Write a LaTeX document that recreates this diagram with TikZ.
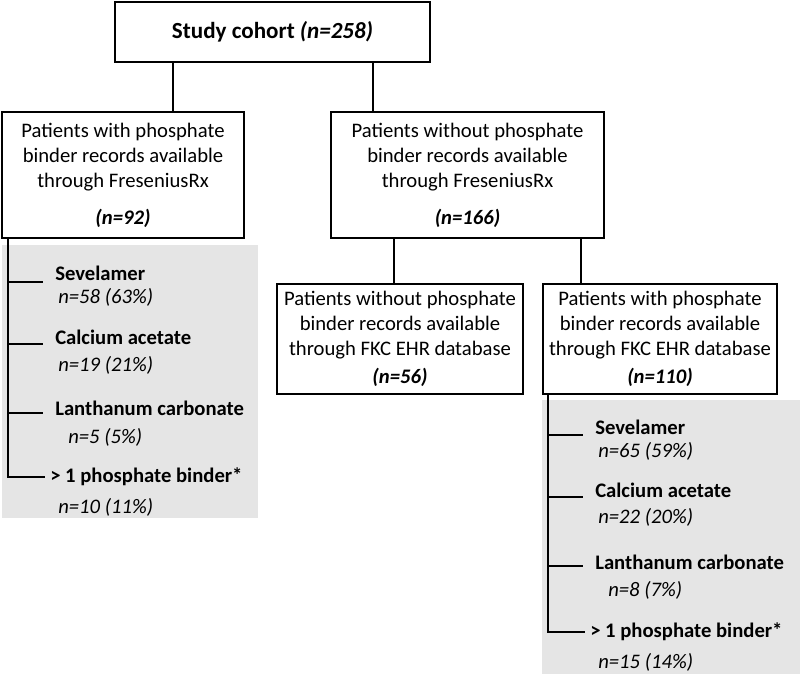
\documentclass[tikz,border=0pt]{standalone}
\usepackage{fontspec}
\setmainfont{Carlito}
\definecolor{shade}{RGB}{229,229,229}
\begin{document}
\begin{tikzpicture}[x=0.75pt,y=-0.75pt,
  every node/.style={font=\fontsize{15.5}{18.75}\selectfont, inner sep=0pt},
  box/.style={draw, line width=1.4pt, align=center, fill=white},
  conn/.style={line width=1.4pt},
  item/.style={anchor=west, font=\fontsize{15.5}{18.75}\selectfont\bfseries},
  cnt/.style={anchor=west, font=\fontsize{15.5}{18.75}\selectfont\itshape},
  panel/.style={fill=shade, draw=none}]
\useasboundingbox (0,0) rectangle (800,674);
% grey panels
\fill[panel] (2,245) rectangle (258,518);
\fill[panel] (542,400) rectangle (800,674);
% boxes
\node[box, minimum width=236.25pt, minimum height=45pt, font=\fontsize{17.3}{20}\selectfont] (top) at (272.5,32)
  {\bfseries Study cohort \textit{(n=258)}};
\node[box, minimum width=181.5pt, minimum height=94.5pt] (L) at (123,175)
  {Patients with phosphate\\binder records available\\through FreseniusRx\\[9pt]\textbf{\textit{(n=92)}}};
\node[box, minimum width=204.75pt, minimum height=94.5pt] (M) at (467.5,175)
  {Patients without phosphate\\binder records available\\through FreseniusRx\\[9pt]\textbf{\textit{(n=166)}}};
\node[box, minimum width=184.5pt, minimum height=82.5pt] (BL) at (400,339)
  {Patients without phosphate\\binder records available\\through FKC EHR database\\[2pt]\textbf{\textit{(n=56)}}};
\node[box, minimum width=175.5pt, minimum height=82.5pt] (BR) at (660,339)
  {Patients with phosphate\\binder records available\\through FKC EHR database\\[2pt]\textbf{\textit{(n=110)}}};
% connectors between boxes
\coordinate (xa) at (173,0);
\coordinate (xb) at (373,0);
\coordinate (xc) at (394,0);
\coordinate (xd) at (581,0);
\draw[conn] (top.south -| xa) -- (L.north -| xa);
\draw[conn] (top.south -| xb) -- (M.north -| xb);
\draw[conn] (M.south -| xc) -- (BL.north -| xc);
\draw[conn] (M.south -| xd) -- (BR.north -| xd);
% left list
\node[item] (ls) at (55,273) {Sevelamer};
\node[cnt] (lsn) at (58,297) {n=58 (63\%)};
\node[item] (lc) at (55,337) {Calcium acetate};
\node[cnt] (lcn) at (58,365) {n=19 (21\%)};
\node[item] (ll) at (55,408) {Lanthanum carbonate};
\node[cnt] (lln) at (68,437) {n=5 (5\%)};
\node[item] (lm) at (50,477) {> 1 phosphate binder*};
\node[cnt] (lmn) at (58,507) {n=10 (11\%)};
\coordinate (lx) at (8,0);
\coordinate (lt1) at (43,282);
\coordinate (lt2) at (43,344);
\coordinate (lt3) at (43,413);
\coordinate (lt4) at (45,477);
\draw[conn] (L.south -| lx) |- (lt4);
\draw[conn] (lx |- lt1) -- (lt1);
\draw[conn] (lx |- lt2) -- (lt2);
\draw[conn] (lx |- lt3) -- (lt3);
% right list
\node[item] (rs) at (595,427) {Sevelamer};
\node[cnt] (rsn) at (598,451) {n=65 (59\%)};
\node[item] (rc) at (595,490) {Calcium acetate};
\node[cnt] (rcn) at (598,517) {n=22 (20\%)};
\node[item] (rl) at (595,562) {Lanthanum carbonate};
\node[cnt] (rln) at (608,590) {n=8 (7\%)};
\node[item] (rm) at (590,632) {> 1 phosphate binder*};
\node[cnt] (rmn) at (598,662) {n=15 (14\%)};
\coordinate (rx) at (548,0);
\coordinate (rt1) at (583,435);
\coordinate (rt2) at (583,497);
\coordinate (rt3) at (583,566);
\coordinate (rt4) at (585,632);
\draw[conn] (BR.south -| rx) |- (rt4);
\draw[conn] (rx |- rt1) -- (rt1);
\draw[conn] (rx |- rt2) -- (rt2);
\draw[conn] (rx |- rt3) -- (rt3);
\end{tikzpicture}
\end{document}
